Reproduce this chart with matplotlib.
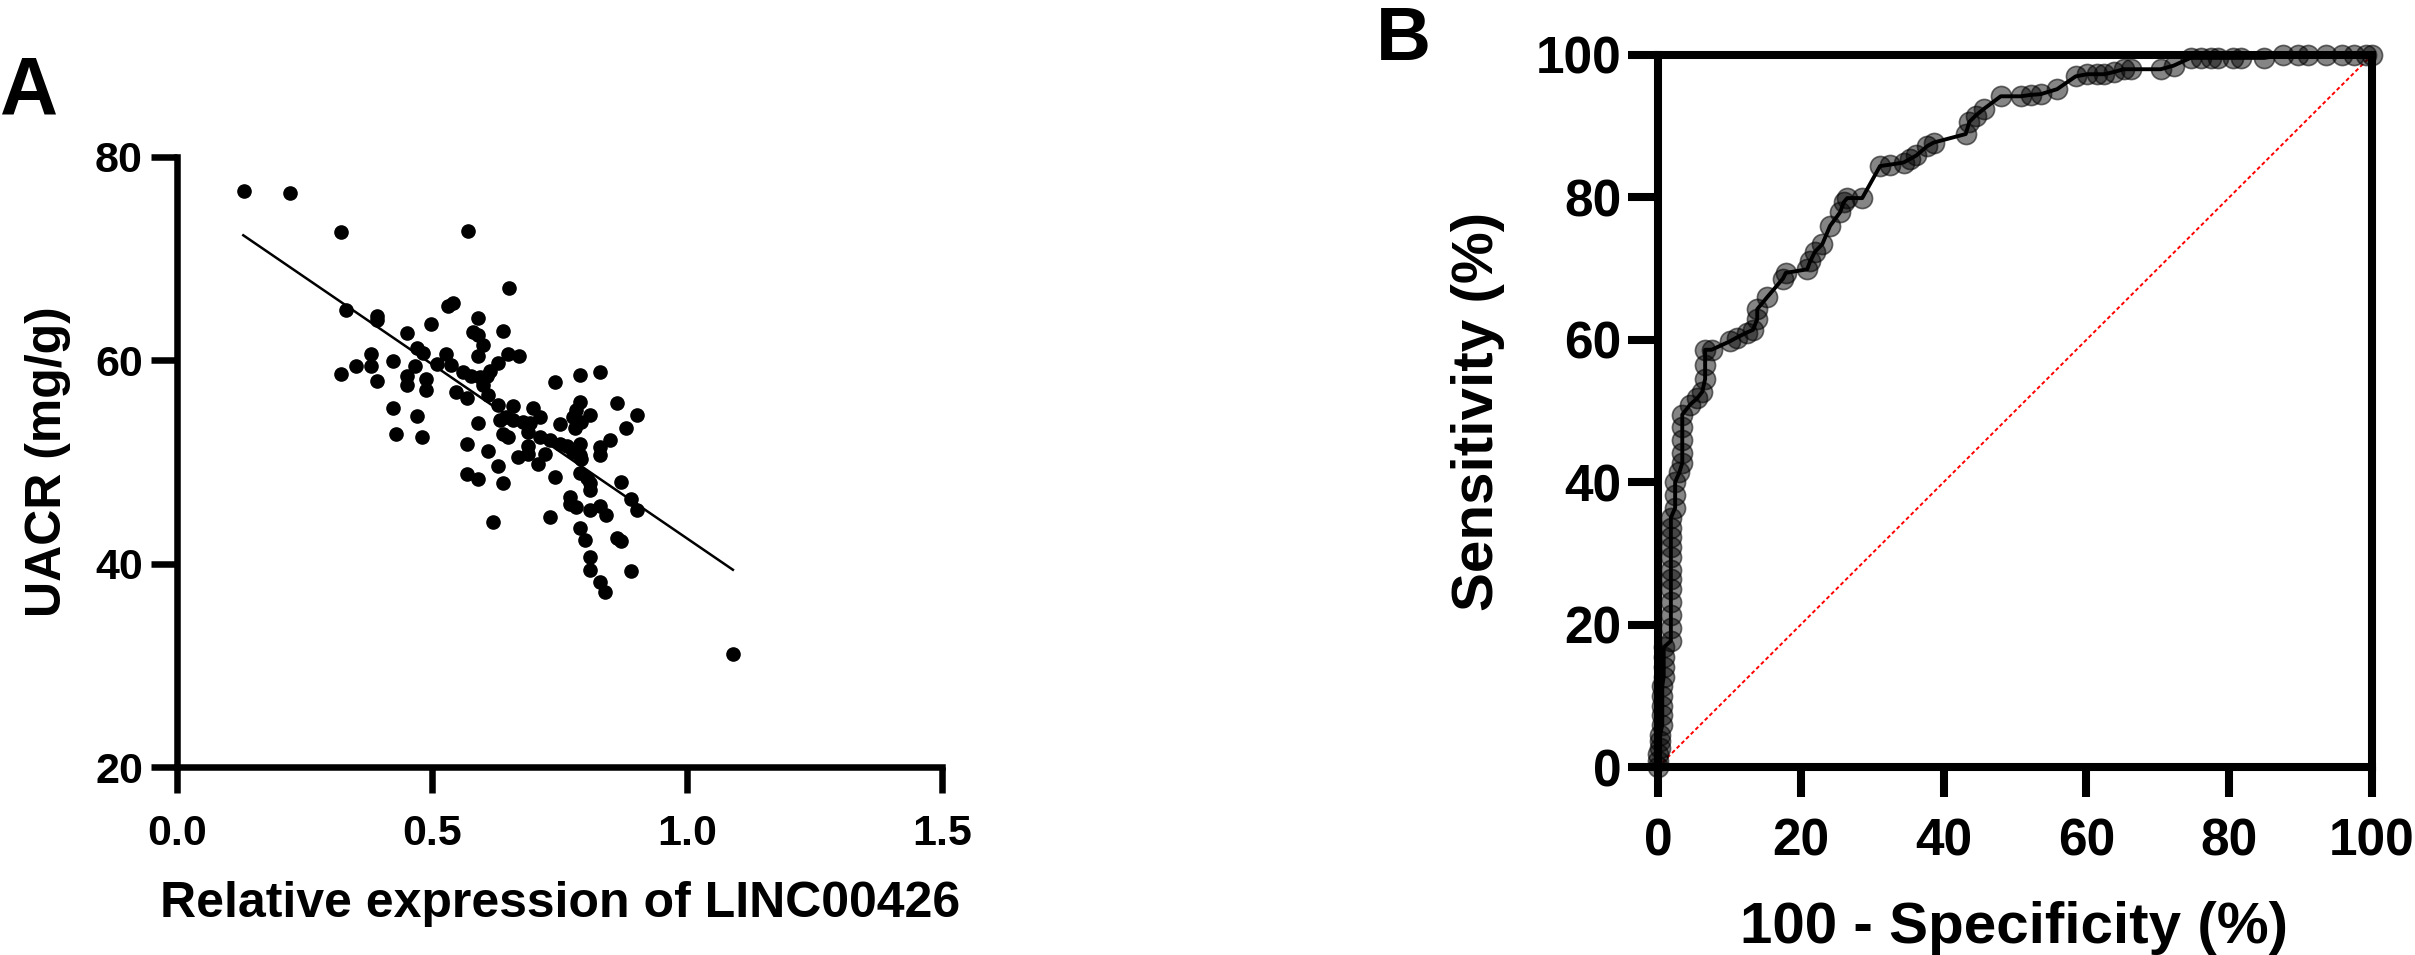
import numpy as np
import matplotlib
matplotlib.use("Agg")
import matplotlib.pyplot as plt

plt.rcParams['font.family'] = ['Liberation Sans', 'DejaVu Sans']
plt.rcParams['font.weight'] = 'bold'

# Panel A: LINC00426 expression vs UACR
expr = [0.131, 0.222, 0.322, 0.571, 0.651, 0.332, 0.392, 0.392, 0.542, 0.532,
        0.499, 0.450, 0.581, 0.590, 0.639, 0.600, 0.470, 0.483, 0.528, 0.590,
        0.649, 0.670, 0.424, 0.466, 0.509, 0.538, 0.630, 0.613, 0.561, 0.577,
        0.594, 0.607, 0.450, 0.489, 0.450, 0.489, 0.548, 0.568, 0.600, 0.610,
        0.424, 0.470, 0.430, 0.480, 0.741, 0.790, 0.829, 0.630, 0.659, 0.698,
        0.711, 0.633, 0.646, 0.659, 0.679, 0.692, 0.590, 0.688, 0.751, 0.790,
        0.783, 0.777, 0.809, 0.793, 0.780, 0.862, 0.901, 0.881, 0.639, 0.649,
        0.711, 0.731, 0.751, 0.764, 0.790, 0.849, 0.568, 0.610, 0.688, 0.829,
        0.829, 0.777, 0.790, 0.793, 0.669, 0.688, 0.721, 0.708, 0.630, 0.568,
        0.590, 0.639, 0.741, 0.790, 0.803, 0.809, 0.809, 0.871, 0.770, 0.770,
        0.783, 0.809, 0.829, 0.842, 0.891, 0.901, 0.731, 0.620, 0.790, 0.800,
        0.862, 0.871, 0.809, 0.322, 0.350, 0.380, 0.380, 0.392, 0.591, 0.810,
        0.890, 0.830, 0.840, 1.091]
uacr = [76.7, 76.5, 72.6, 72.7, 67.1, 65.0, 64.4, 64.0, 65.6, 65.3,
        63.6, 62.7, 62.8, 62.5, 62.9, 61.5, 61.2, 60.7, 60.6, 60.4,
        60.6, 60.4, 59.9, 59.4, 59.6, 59.5, 59.7, 59.0, 58.9, 58.5,
        58.4, 58.5, 58.5, 58.2, 57.6, 57.1, 56.9, 56.3, 57.6, 56.6,
        55.3, 54.5, 52.8, 52.5, 57.9, 58.6, 58.9, 55.6, 55.5, 55.3,
        54.4, 54.1, 54.4, 54.1, 53.9, 53.8, 53.8, 53.0, 53.7, 55.9,
        55.1, 54.4, 54.6, 53.9, 53.3, 55.8, 54.6, 53.3, 52.8, 52.5,
        52.5, 52.2, 51.8, 51.6, 51.8, 52.2, 51.8, 51.1, 51.6, 51.5,
        50.7, 51.0, 50.7, 50.3, 50.5, 50.8, 50.8, 49.8, 49.6, 48.8,
        48.3, 47.9, 48.5, 48.9, 48.4, 47.9, 47.2, 48.0, 46.6, 45.9,
        45.6, 45.3, 45.7, 44.8, 46.4, 45.3, 44.6, 44.1, 43.5, 42.3,
        42.5, 42.2, 40.7, 58.7, 59.4, 60.6, 59.4, 58.0, 64.2, 39.4,
        39.3, 38.2, 37.2, 31.1]
fit_x = [0.13, 1.09]
fit_y = [72.3, 39.4]

# Panel B: ROC curve
fpr = [0, 0, 0, 0.3, 0.3, 0.3, 0.6, 0.6, 0.6, 0.6, 0.6, 0.8, 0.8, 0.8, 0.8,
       1.8, 1.8, 1.8, 1.8, 1.8, 1.8, 1.8, 1.8, 1.8, 1.8, 1.8, 1.8,
       2.4, 2.4, 2.4, 3.0, 3.4, 3.4, 3.4, 3.4, 3.4, 4.5, 5.5, 6.2, 6.6, 6.6, 6.6,
       7.5, 10.1, 11.0, 12.4, 13.3, 13.9, 13.9, 15.3, 17.5, 17.9, 20.9, 21.3,
       22.0, 23.0, 24.1, 25.5, 26.0, 26.5, 28.6, 31.1, 32.5, 34.4, 35.3, 36.2,
       37.7, 38.6, 43.1, 43.6, 44.5, 45.6, 48.0, 50.8, 52.2, 53.6, 55.9, 58.5, 60.1, 61.5,
       62.5, 63.8, 65.2, 66.2, 70.4, 72.2, 74.6, 76.0, 77.5, 78.5, 80.5, 81.6, 84.9, 87.5,
       89.7, 91.0, 93.6, 95.8, 97.5, 99.2, 100]
tpr = [0, 0.9, 1.8, 2.7, 3.6, 4.5, 5.9, 7.3, 8.6, 10.0, 11.4, 12.7, 14.1, 15.5, 16.8,
       17.7, 19.5, 21.4, 23.2, 25.0, 26.4, 27.7, 29.5, 30.9, 32.3, 33.6, 35.0,
       36.4, 38.2, 40.0, 41.4, 42.7, 44.1, 45.9, 47.7, 49.5, 50.9, 51.8, 52.7, 54.5, 56.4, 58.6,
       58.6, 59.8, 60.3, 61.0, 61.4, 62.9, 64.3, 66.0, 68.6, 69.4, 69.9, 71.0,
       72.4, 73.4, 76.0, 77.9, 79.3, 79.9, 79.9, 84.4, 84.6, 84.9, 85.4, 85.9,
       87.2, 87.7, 88.9, 90.6, 91.5, 92.4, 94.2, 94.2, 94.4, 94.5, 95.2, 97.0, 97.3, 97.3,
       97.3, 97.6, 98.0, 98.0, 98.0, 98.5, 99.6, 99.6, 99.6, 99.6, 99.6, 99.6, 99.6, 100,
       100, 100, 100, 100, 100, 100, 100]

W, H = 2415, 955
fig = plt.figure(figsize=(W / 100, H / 100), dpi=100)

# ---- panel A ----
axA = fig.add_axes([177 / W, (H - 767) / H, (942 - 177) / W, (767 - 157) / H])
axA.plot(expr, uacr, 'o', color='black', ms=9.5, ls='none')
axA.plot(fit_x, fit_y, color='black', lw=1.8)
axA.set_xlim(0, 1.5)
axA.set_ylim(20, 80)
axA.set_xticks([0, 0.5, 1.0, 1.5])
axA.set_xticklabels(['0.0', '0.5', '1.0', '1.5'])
axA.set_yticks([20, 40, 60, 80])
for s in ['top', 'right']:
    axA.spines[s].set_visible(False)
for s in ['left', 'bottom']:
    axA.spines[s].set_linewidth(4.7)
axA.tick_params(axis='both', length=18.5, width=4.7, labelsize=31)
axA.tick_params(axis='x', pad=15)
axA.tick_params(axis='y', pad=6)
fig.text(560 / W, (H - 917) / H, 'Relative expression of LINC00426',
         ha='center', va='baseline', fontsize=36, fontweight='bold')
fig.text(48 / W, (H - 462) / H, 'UACR (mg/g)', rotation=90,
         ha='center', va='center', fontsize=36, fontweight='bold')
fig.text(0.0, (H - 113) / H, 'A', ha='left', va='baseline', fontsize=58, fontweight='bold')

# ---- panel B ----
axB = fig.add_axes([1658 / W, (H - 767) / H, (2372 - 1658) / W, (767 - 55) / H])
axB.plot([0, 100], [0, 100], color='red', lw=1.4, ls=(0, (2, 1.4)))
axB.plot(fpr, tpr, color='black', lw=2.8, marker='o', ms=14.5,
         mfc=(0, 0, 0, 0.48), mec=(0, 0, 0, 0.55), mew=1.2, clip_on=False, zorder=3)
axB.set_xlim(0, 100)
axB.set_ylim(0, 100)
axB.set_xticks(range(0, 101, 20))
axB.set_yticks(range(0, 101, 20))
for s in axB.spines.values():
    s.set_linewidth(5.8)
    s.set_zorder(4)
axB.tick_params(axis='both', length=21.5, width=5.8, labelsize=37)
axB.tick_params(axis='x', pad=15)
axB.tick_params(axis='y', pad=5)
fig.text(2014 / W, (H - 943) / H, '100 - Specificity (%)',
         ha='center', va='baseline', fontsize=42, fontweight='bold')
fig.text(1478 / W, (H - 411) / H, 'Sensitivity (%)', rotation=90,
         ha='center', va='center', fontsize=42, fontweight='bold')
fig.text(1376 / W, (H - 60) / H, 'B', ha='left', va='baseline', fontsize=55, fontweight='bold')

fig.savefig('out.png', dpi=100)
